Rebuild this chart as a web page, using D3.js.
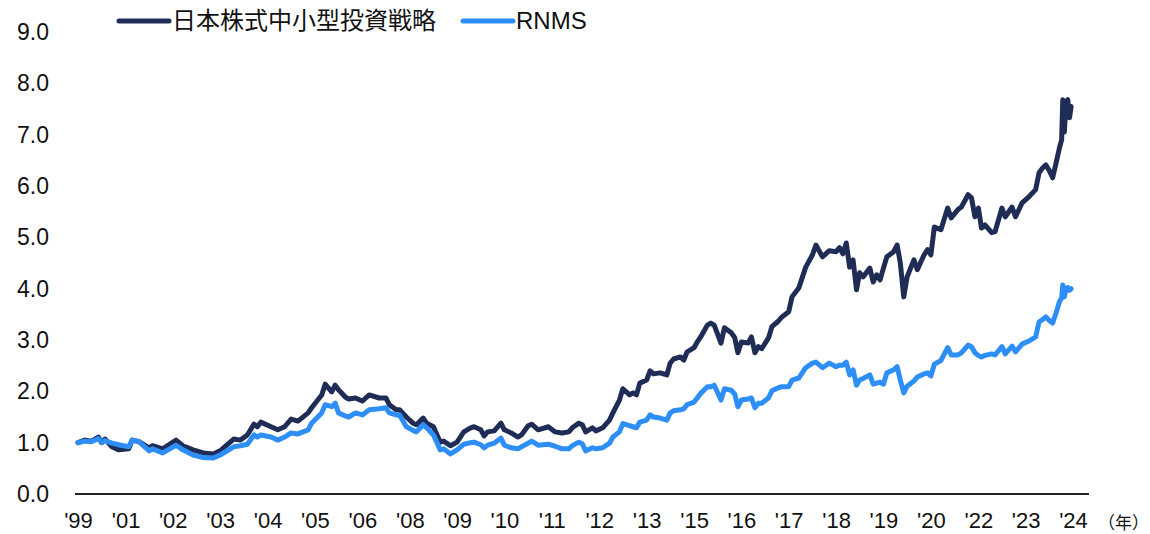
<!DOCTYPE html>
<html><head><meta charset="utf-8">
<script src="https://cdn.jsdelivr.net/npm/d3@7"></script>
<style>
html,body{margin:0;padding:0;background:#fff;}
svg{display:block;font-family:"Liberation Sans",Arial,"Noto Sans CJK JP",sans-serif;}
</style></head><body>
<svg id="chart" width="1150" height="534"></svg>
<script>
const seriesNames = ["日本株式中小型投資戦略", "RNMS"];
const dates = ["1999-12","2000-02","2000-04","2000-06","2000-07","2000-08","2000-10","2000-12","2001-03","2001-04","2001-06","2001-09","2001-10","2002-01","2002-05","2002-07","2002-10","2003-01","2003-04","2003-06","2003-10","2003-12","2004-02","2004-04","2004-05","2004-06","2004-09","2004-11","2005-01","2005-03","2005-05","2005-08","2005-09","2005-12","2006-01","2006-03","2006-04","2006-05","2006-07","2006-08","2006-10","2006-12","2007-02","2007-05","2007-07","2007-08","2007-10","2007-11","2008-01","2008-03","2008-04","2008-06","2008-07","2008-09","2008-11","2008-12","2009-02","2009-04","2009-06","2009-08","2009-09","2009-11","2009-12","2010-01","2010-03","2010-05","2010-06","2010-08","2010-10","2010-11","2011-01","2011-02","2011-04","2011-07","2011-09","2011-11","2012-01","2012-02","2012-04","2012-05","2012-06","2012-08","2012-09","2012-11","2013-01","2013-02","2013-04","2013-05","2013-07","2013-08","2013-09","2013-10","2013-12","2014-01","2014-02","2014-04","2014-06","2014-07","2014-08","2014-10","2014-11","2014-12","2015-02","2015-03","2015-04","2015-06","2015-07","2015-08","2015-10","2015-11","2016-01","2016-02","2016-03","2016-04","2016-06","2016-07","2016-08","2016-09","2016-10","2016-12","2017-01","2017-03","2017-04","2017-06","2017-07","2017-09","2017-11","2018-01","2018-02","2018-04","2018-06","2018-08","2018-09","2018-10","2018-11","2018-12","2019-01","2019-02","2019-03","2019-04","2019-06","2019-07","2019-08","2019-09","2019-10","2019-11","2020-01","2020-02","2020-03","2020-04","2020-05","2020-07","2020-08","2020-10","2020-11","2020-12","2021-01","2021-03","2021-05","2021-06","2021-08","2021-09","2021-11","2021-12","2022-01","2022-02","2022-03","2022-04","2022-06","2022-07","2022-09","2022-10","2022-12","2023-01","2023-03","2023-05","2023-07","2023-08","2023-09","2023-10","2023-11","2023-12","2024-01","2024-02","2024-02-20","2024-03-01","2024-03-15","2024-04-01","2024-04-15","2024-05-01","2024-05-15"];
const strategy = [1.00,1.05,1.03,1.11,1.00,1.07,0.92,0.86,0.88,1.05,1.02,0.90,0.94,0.88,1.05,0.94,0.86,0.80,0.78,0.84,1.07,1.05,1.15,1.36,1.31,1.40,1.31,1.25,1.31,1.46,1.42,1.58,1.68,1.93,2.14,1.99,2.12,2.03,1.89,1.85,1.87,1.81,1.93,1.87,1.87,1.74,1.64,1.64,1.50,1.38,1.35,1.48,1.38,1.31,1.01,1.03,0.94,1.01,1.21,1.29,1.31,1.25,1.13,1.21,1.23,1.38,1.25,1.19,1.11,1.15,1.33,1.36,1.25,1.31,1.21,1.19,1.21,1.29,1.38,1.35,1.21,1.29,1.23,1.29,1.44,1.58,1.83,2.05,1.93,1.97,1.93,2.16,2.22,2.40,2.34,2.36,2.32,2.55,2.63,2.67,2.61,2.77,2.85,2.96,3.06,3.29,3.33,3.29,2.94,3.24,3.14,3.05,2.75,2.96,2.94,3.06,2.75,2.87,2.83,3.04,3.26,3.37,3.45,3.55,3.84,4.02,4.42,4.66,4.85,4.62,4.74,4.72,4.80,4.68,4.89,4.42,4.56,3.98,4.31,4.23,4.40,4.13,4.27,4.17,4.40,4.62,4.72,4.85,4.50,3.84,4.23,4.56,4.37,4.66,4.76,4.66,5.20,5.15,5.57,5.38,5.54,5.59,5.83,5.77,5.40,5.57,5.18,5.24,5.09,5.11,5.57,5.40,5.59,5.40,5.67,5.79,5.93,6.26,6.35,6.41,6.30,6.16,6.45,6.75,6.90,7.68,7.05,7.64,7.68,7.33,7.55];
const rnms = [1.00,1.03,1.02,1.08,1.00,1.04,0.99,0.96,0.92,1.05,1.02,0.84,0.88,0.80,0.95,0.86,0.76,0.71,0.70,0.76,0.92,0.94,0.97,1.15,1.11,1.15,1.11,1.05,1.11,1.19,1.17,1.25,1.38,1.58,1.74,1.70,1.77,1.58,1.52,1.50,1.58,1.54,1.64,1.66,1.68,1.58,1.54,1.54,1.31,1.24,1.21,1.35,1.29,1.15,0.86,0.88,0.78,0.86,0.97,1.00,1.01,0.96,0.90,0.95,0.99,1.09,0.95,0.90,0.88,0.92,0.99,1.03,0.95,0.97,0.93,0.88,0.88,0.94,1.01,0.98,0.84,0.90,0.88,0.90,0.99,1.11,1.21,1.37,1.33,1.31,1.29,1.40,1.44,1.54,1.50,1.48,1.44,1.58,1.62,1.64,1.66,1.74,1.79,1.87,1.96,2.09,2.09,2.12,1.83,2.05,2.02,1.95,1.70,1.83,1.85,1.87,1.68,1.77,1.77,1.87,2.01,2.07,2.09,2.09,2.22,2.26,2.46,2.55,2.57,2.46,2.55,2.48,2.51,2.51,2.57,2.32,2.42,2.12,2.22,2.25,2.32,2.14,2.16,2.18,2.14,2.36,2.42,2.48,2.22,1.97,2.10,2.20,2.28,2.34,2.36,2.30,2.53,2.60,2.85,2.71,2.71,2.75,2.90,2.87,2.75,2.70,2.67,2.70,2.73,2.71,2.87,2.73,2.88,2.77,2.92,2.98,3.06,3.35,3.40,3.45,3.38,3.33,3.53,3.75,3.82,4.07,3.84,4.01,4.02,3.97,4.00];
const yTicks = [0,1,2,3,4,5,6,7,8,9];
const tickDates = ["1999-12","2001-02","2002-04","2003-06","2004-08","2005-10","2006-12","2008-02","2009-04","2010-06","2011-08","2012-10","2013-12","2015-02","2016-04","2017-06","2018-08","2019-10","2020-12","2022-02","2023-04","2024-06"];
const tickLabels = ["'99","'01","'02","'03","'04","'05","'06","'08","'09","'10","'11","'12","'13","'15","'16","'17","'18","'19","'20","'22","'23","'24"];
const unitLabel = "（年）";
const colors = ["#1f2d56", "#2e8ef7"];

const svg = d3.select("#chart");
const parse = d3.isoParse;
const x = d3.scaleUtc().domain([parse("1999-12"), parse("2024-06")]).range([78, 1073]);
const y = d3.scaleLinear().domain([0, 9]).range([494, 32]);
const textColor = "#111";

// y axis labels
const yAxis = svg.append("g").attr("transform", "translate(49,0)")
  .call(d3.axisLeft(y).tickValues(yTicks).tickFormat(d3.format(".1f")).tickSize(0).tickPadding(0));
yAxis.select(".domain").remove();
yAxis.selectAll("text").attr("font-size", 23).attr("fill", textColor)
  .attr("font-family", "'Liberation Sans', Arial, sans-serif");

// x axis
const xAxis = svg.append("g").attr("transform", "translate(0,494)")
  .call(d3.axisBottom(x).tickValues(tickDates.map(parse)).tickFormat((d, i) => tickLabels[i]).tickSize(0).tickPadding(18));
xAxis.select(".domain").remove();
xAxis.selectAll("text").attr("font-size", 22).attr("fill", textColor)
  .attr("font-family", "'Liberation Sans', Arial, sans-serif");
svg.append("line")
  .attr("x1", x.range()[0] - 3).attr("x2", x.range()[1] + 16)
  .attr("y1", y(0)).attr("y2", y(0))
  .attr("stroke", "#222").attr("stroke-width", 2);
svg.append("text").attr("x", 1149).attr("y", 529)
  .attr("text-anchor", "end")
  .attr("font-size", 17).attr("fill", textColor)
  .attr("font-family", "'Noto Sans CJK JP', sans-serif")
  .text(unitLabel);

// lines
const line = d3.line().x((d) => x(d.date)).y((d) => y(d.v)).curve(d3.curveLinear);
[strategy, rnms].forEach((vals, k) => {
  const pts = dates.map((dt, i) => ({ date: parse(dt), v: vals[i] }));
  svg.append("path").datum(pts)
    .attr("fill", "none").attr("stroke", colors[k]).attr("stroke-width", 5)
    .attr("stroke-linejoin", "round").attr("stroke-linecap", "round")
    .attr("d", line);
});

// legend
const legend = svg.append("g");
const legendItems = [{ x: 119, w: 50 }, { x: 463, w: 50 }];
seriesNames.forEach((name, k) => {
  const g = legend.append("g").attr("transform", `translate(${legendItems[k].x},21)`);
  g.append("line").attr("x1", 0).attr("x2", legendItems[k].w).attr("y1", 0).attr("y2", 0)
    .attr("stroke", colors[k]).attr("stroke-width", 5).attr("stroke-linecap", "round");
  g.append("text").attr("x", legendItems[k].w + 3).attr("y", 0).attr("dy", "0.35em")
    .attr("font-size", 24).attr("fill", textColor).text(name);
});
</script>
</body></html>
